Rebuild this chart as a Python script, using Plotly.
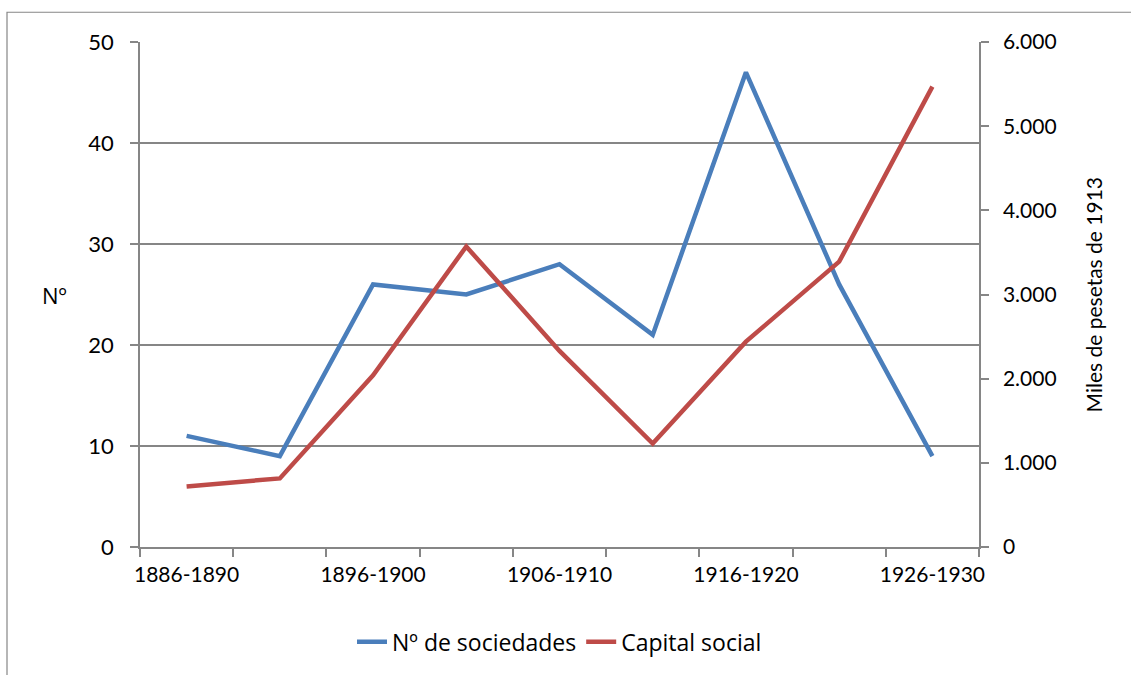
import plotly.graph_objects as go

periodos = ["1886-1890", "1891-1895", "1896-1900", "1901-1905", "1906-1910",
            "1911-1915", "1916-1920", "1921-1925", "1926-1930"]
num_sociedades = [11, 9, 26, 25, 28, 21, 47, 26, 9]
capital_social = [720, 815, 2040, 3570, 2330, 1230, 2440, 3390, 5470]

etiquetas_x = [p if i % 2 == 0 else "" for i, p in enumerate(periodos)]

AZUL = "#4a7ebb"
ROJO = "#be4b48"
GRIS = "#868686"
FUENTE = "Lato, 'Open Sans', sans-serif"
TAM = 21

fig = go.Figure()
fig.add_trace(go.Scatter(
    x=periodos, y=num_sociedades, name="Nº de sociedades", mode="lines",
    line=dict(color=AZUL, width=4.5), yaxis="y"))
fig.add_trace(go.Scatter(
    x=periodos, y=capital_social, name="Capital social", mode="lines",
    line=dict(color=ROJO, width=4.5), yaxis="y2"))

fig.update_layout(
    width=1131, height=675,
    margin=dict(l=140, r=152, t=42, b=124),
    paper_bgcolor="white", plot_bgcolor="white",
    font=dict(family=FUENTE, size=TAM, color="black"),
    separators=",.",
    xaxis=dict(
        type="category", tickmode="array", tickvals=periodos, ticktext=etiquetas_x,
        tickangle=0, automargin=False,
        tickson="boundaries", ticks="outside", ticklen=8, tickcolor=GRIS, tickwidth=1.5,
        showline=True, linecolor=GRIS, linewidth=1.5, showgrid=False,
        ticklabelstandoff=8, range=[-0.5, 8.5]),
    yaxis=dict(
        range=[0, 50], dtick=10, ticks="outside", ticklen=8, tickcolor=GRIS, tickwidth=1.5,
        showline=True, linecolor=GRIS, linewidth=1.5, automargin=False,
        showgrid=True, gridcolor=GRIS, gridwidth=1.5, zeroline=False,
        ticklabelstandoff=12, tickfont=dict(size=22)),
    yaxis2=dict(
        range=[0, 6000], dtick=1000, tickformat=",d", overlaying="y", side="right",
        ticks="outside", ticklen=8, tickcolor=GRIS, tickwidth=1.5, automargin=False,
        showline=True, linecolor=GRIS, linewidth=1.5, showgrid=False, zeroline=False,
        ticklabelstandoff=10),
    legend=dict(orientation="h", x=0.5, xanchor="center", y=-0.145, yanchor="top",
                font=dict(size=23, family="'Open Sans', sans-serif"), tracegroupgap=0),
    showlegend=True,
)

fig.add_annotation(text="Nº", xref="paper", yref="paper", x=-0.102, y=0.5,
                   xanchor="center", yanchor="middle", showarrow=False,
                   font=dict(size=22, family="'Open Sans', sans-serif"))
fig.add_annotation(text="Miles de pesetas de 1913", xref="paper", yref="paper",
                   x=1.137, y=0.5, xanchor="center", yanchor="middle",
                   textangle=-90, showarrow=False, font=dict(size=TAM))

# outer frame
fig.add_shape(type="rect", xref="paper", yref="paper",
              x0=-133 / 839, x1=1.3, y0=-0.4, y1=1 + 30 / 509,
              line=dict(color=GRIS, width=1.2), fillcolor="rgba(0,0,0,0)", layer="below")

fig.write_html("out.html")
